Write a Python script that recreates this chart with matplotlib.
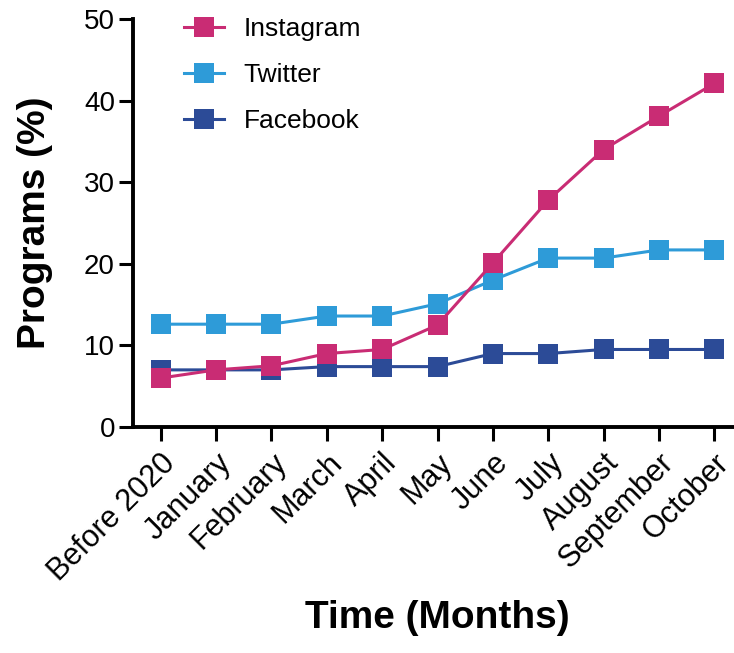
import matplotlib
matplotlib.use('Agg')
import matplotlib.pyplot as plt

plt.rcParams['font.family'] = ['Liberation Sans', 'DejaVu Sans']

# data
months = ['Before 2020', 'January', 'February', 'March', 'April', 'May',
          'June', 'July', 'August', 'September', 'October']
instagram = [6.0, 7.0, 7.5, 9.0, 9.5, 12.5, 20.1, 27.8, 34.0, 38.1, 42.1]
twitter = [12.6, 12.6, 12.6, 13.6, 13.6, 15.1, 18.0, 20.7, 20.7, 21.7, 21.7]
facebook = [7.0, 7.0, 7.0, 7.4, 7.4, 7.4, 9.0, 9.0, 9.5, 9.5, 9.5]

colors = {'Instagram': '#C92C74', 'Twitter': '#2E9BD8', 'Facebook': '#2C4B97'}

fig = plt.figure(figsize=(7.34, 6.53), dpi=100)
ax = fig.add_axes([0.1812, 0.3461, 0.8297, 0.6248])

x = list(range(len(months)))
style = dict(marker='s', markersize=14.5, linewidth=2.2, markeredgewidth=0)
h_fb, = ax.plot(x, facebook, color=colors['Facebook'], label='Facebook', zorder=3, **style)
h_tw, = ax.plot(x, twitter, color=colors['Twitter'], label='Twitter', zorder=4, **style)
h_ig, = ax.plot(x, instagram, color=colors['Instagram'], label='Instagram', zorder=5, **style)

ax.set_xlim(-0.5, 10.5)
ax.set_ylim(0, 50)
ax.set_yticks([0, 10, 20, 30, 40, 50])
ax.set_xticks(x)
ax.set_xticklabels(months, rotation=45, ha='right', rotation_mode='anchor')

for s in ['top', 'right']:
    ax.spines[s].set_visible(False)
for s in ['left', 'bottom']:
    ax.spines[s].set_linewidth(2.8)
ax.tick_params(axis='both', length=10, width=2.2, pad=3)
ax.tick_params(axis='y', labelsize=20)
ax.tick_params(axis='x', labelsize=22, pad=5)

ax.set_ylabel('Programs (%)', fontsize=28, fontweight='bold')
ax.yaxis.set_label_coords(-0.131, 0.5)
ax.set_xlabel('Time (Months)', fontsize=28, fontweight='bold')
ax.xaxis.set_label_coords(0.5, -0.424)

fig.legend(handles=[h_ig, h_tw, h_fb], loc='upper left',
           bbox_to_anchor=(184 / 734, 1 - 17 / 653), frameon=False,
           fontsize=19, handlelength=1.5, handletextpad=0.75,
           labelspacing=0.83, borderpad=0, borderaxespad=0)

fig.savefig('out.png', dpi=100)
